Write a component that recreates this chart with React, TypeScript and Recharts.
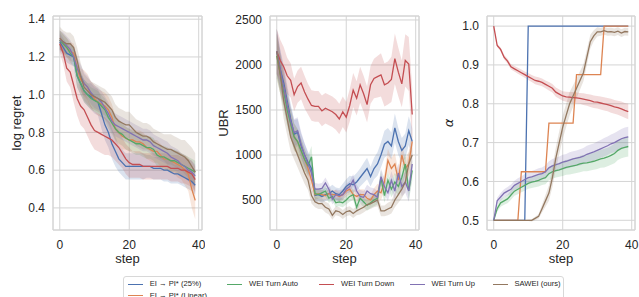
import React from 'react';
import { ComposedChart, Line, Area, XAxis, YAxis, CartesianGrid, ReferenceArea } from 'recharts';

const steps = [0, 1, 2, 3, 4, 5, 6, 7, 8, 9, 10, 11, 12, 13, 14, 15, 16, 17, 18, 19, 20, 21, 22, 23, 24, 25, 26, 27, 28, 29, 30, 31, 32, 33, 34, 35, 36, 37, 38, 39];

const seriesNames = ['EI → PI* (25%)', 'EI → PI* (Linear)', 'WEI Turn Auto', 'WEI Turn Down', 'WEI Turn Up', 'SAWEI (ours)'];
const seriesKeys = ['blue', 'orange', 'green', 'red', 'purple', 'brown'];
const seriesColors = ['#4c72b0', '#dd8452', '#55a868', '#c44e52', '#8172b3', '#937860'];

// log regret
const regretBlue = [1.28, 1.25, 1.22, 1.21, 1.2, 1.1, 1.06, 1.02, 1.0, 0.99, 0.97, 0.96, 0.9, 0.84, 0.8, 0.74, 0.7, 0.66, 0.64, 0.62, 0.62, 0.62, 0.62, 0.62, 0.62, 0.62, 0.62, 0.61, 0.61, 0.61, 0.6, 0.6, 0.59, 0.58, 0.58, 0.57, 0.56, 0.55, 0.54, 0.52];
const regretOrange = [1.29, 1.27, 1.25, 1.23, 1.22, 1.14, 1.08, 1.06, 1.04, 1.0, 0.98, 0.96, 0.95, 0.94, 0.92, 0.88, 0.82, 0.8, 0.78, 0.77, 0.76, 0.76, 0.75, 0.75, 0.74, 0.72, 0.71, 0.7, 0.7, 0.68, 0.66, 0.66, 0.65, 0.64, 0.63, 0.62, 0.6, 0.58, 0.5, 0.44];
const regretGreen = [1.29, 1.27, 1.25, 1.22, 1.2, 1.1, 1.06, 1.02, 1.0, 0.98, 0.97, 0.96, 0.94, 0.92, 0.88, 0.85, 0.82, 0.8, 0.79, 0.77, 0.76, 0.75, 0.74, 0.74, 0.73, 0.72, 0.72, 0.71, 0.68, 0.67, 0.67, 0.66, 0.65, 0.65, 0.64, 0.63, 0.62, 0.61, 0.6, 0.59];
const regretRed = [1.27, 1.22, 1.14, 1.12, 1.05, 0.98, 0.94, 0.92, 0.88, 0.84, 0.81, 0.8, 0.79, 0.78, 0.77, 0.76, 0.74, 0.72, 0.69, 0.66, 0.64, 0.63, 0.63, 0.63, 0.62, 0.62, 0.62, 0.62, 0.62, 0.62, 0.62, 0.62, 0.61, 0.61, 0.61, 0.6, 0.6, 0.59, 0.58, 0.55];
const regretPurple = [1.29, 1.28, 1.26, 1.24, 1.2, 1.14, 1.1, 1.06, 1.04, 1.01, 0.99, 0.98, 0.96, 0.93, 0.9, 0.86, 0.84, 0.83, 0.82, 0.81, 0.8, 0.79, 0.78, 0.77, 0.76, 0.76, 0.75, 0.73, 0.72, 0.71, 0.7, 0.69, 0.67, 0.66, 0.65, 0.63, 0.62, 0.6, 0.59, 0.57];
const regretBrown = [1.3, 1.28, 1.27, 1.27, 1.25, 1.18, 1.1, 1.04, 1.02, 1.0, 0.99, 0.98, 0.97, 0.96, 0.94, 0.92, 0.88, 0.86, 0.85, 0.84, 0.84, 0.82, 0.8, 0.79, 0.78, 0.78, 0.77, 0.75, 0.74, 0.73, 0.72, 0.71, 0.71, 0.7, 0.69, 0.68, 0.67, 0.65, 0.62, 0.59];

const regretBlueSd = [0.05, 0.05, 0.05, 0.05, 0.05, 0.06, 0.06, 0.06, 0.06, 0.07, 0.07, 0.07, 0.08, 0.08, 0.08, 0.08, 0.08, 0.07, 0.07, 0.07, 0.07, 0.07, 0.07, 0.07, 0.07, 0.06, 0.06, 0.06, 0.06, 0.06, 0.06, 0.06, 0.06, 0.05, 0.05, 0.05, 0.05, 0.05, 0.05, 0.05];
const regretOrangeSd = [0.05, 0.05, 0.05, 0.05, 0.05, 0.06, 0.06, 0.07, 0.07, 0.07, 0.07, 0.07, 0.07, 0.07, 0.07, 0.07, 0.07, 0.07, 0.07, 0.06, 0.06, 0.06, 0.06, 0.06, 0.06, 0.06, 0.06, 0.06, 0.06, 0.06, 0.06, 0.06, 0.06, 0.06, 0.07, 0.07, 0.08, 0.09, 0.1, 0.1];
const regretGreenSd = [0.05, 0.05, 0.05, 0.05, 0.05, 0.06, 0.06, 0.06, 0.06, 0.06, 0.06, 0.06, 0.06, 0.06, 0.06, 0.06, 0.06, 0.06, 0.06, 0.06, 0.06, 0.06, 0.06, 0.06, 0.06, 0.06, 0.06, 0.06, 0.06, 0.06, 0.06, 0.06, 0.06, 0.06, 0.06, 0.06, 0.06, 0.06, 0.06, 0.06];
const regretRedSd = [0.05, 0.06, 0.07, 0.08, 0.09, 0.09, 0.1, 0.1, 0.1, 0.1, 0.1, 0.1, 0.1, 0.1, 0.09, 0.09, 0.09, 0.09, 0.08, 0.08, 0.08, 0.07, 0.07, 0.07, 0.07, 0.07, 0.07, 0.07, 0.07, 0.07, 0.07, 0.07, 0.07, 0.07, 0.07, 0.07, 0.07, 0.07, 0.07, 0.07];
const regretPurpleSd = [0.05, 0.05, 0.05, 0.05, 0.05, 0.06, 0.06, 0.06, 0.06, 0.06, 0.06, 0.06, 0.06, 0.06, 0.06, 0.06, 0.06, 0.06, 0.06, 0.06, 0.06, 0.06, 0.06, 0.06, 0.06, 0.06, 0.06, 0.06, 0.06, 0.06, 0.06, 0.06, 0.06, 0.06, 0.06, 0.06, 0.06, 0.06, 0.06, 0.06];
const regretBrownSd = [0.06, 0.06, 0.06, 0.06, 0.06, 0.07, 0.07, 0.07, 0.07, 0.07, 0.07, 0.07, 0.07, 0.07, 0.07, 0.07, 0.07, 0.07, 0.07, 0.07, 0.07, 0.07, 0.07, 0.07, 0.07, 0.07, 0.07, 0.07, 0.07, 0.07, 0.07, 0.08, 0.08, 0.08, 0.08, 0.08, 0.09, 0.09, 0.1, 0.1];

// UBR
const ubrBlue = [2150, 1950, 1800, 1600, 1400, 1230, 1250, 1100, 1000, 920, 850, 550, 560, 540, 560, 570, 600, 570, 560, 600, 650, 680, 670, 700, 750, 800, 850, 760, 850, 900, 1000, 1120, 1150, 1100, 1300, 1150, 1050, 1100, 1270, 1150];
const ubrOrange = [2100, 1900, 1750, 1550, 1350, 1200, 1150, 1050, 950, 850, 720, 560, 570, 560, 550, 570, 560, 560, 540, 560, 600, 620, 560, 540, 560, 560, 520, 500, 560, 600, 580, 700, 940, 850, 900, 720, 1000, 850, 900, 1150];
const ubrGreen = [2100, 1900, 1700, 1500, 1350, 1200, 1150, 1050, 950, 880, 980, 570, 560, 580, 600, 520, 540, 470, 480, 470, 500, 540, 560, 420, 520, 480, 440, 470, 500, 520, 740, 550, 720, 620, 700, 650, 750, 900, 600, 830];
const ubrRed = [2150, 2050, 1980, 1880, 1830, 1670, 1760, 1800, 1700, 1620, 1550, 1540, 1540, 1490, 1520, 1500, 1480, 1450, 1400, 1480, 1420, 1550, 1720, 1630, 1780, 1680, 1560, 1780, 1850, 1870, 1890, 1780, 1800, 1840, 2070, 1920, 1790, 2050, 2010, 1450];
const ubrPurple = [2150, 1950, 1750, 1550, 1380, 1250, 1270, 1120, 1000, 900, 800, 620, 620, 630, 690, 620, 510, 560, 550, 560, 620, 650, 720, 600, 540, 530, 600, 570, 560, 530, 760, 650, 580, 720, 600, 800, 650, 700, 600, 900];
const ubrBrown = [2150, 1900, 1600, 1400, 1200, 1100, 1000, 900, 800, 720, 550, 480, 460, 460, 420, 400, 330, 380, 370, 340, 370, 380, 350, 380, 400, 420, 450, 460, 480, 500, 380, 380, 400, 420, 500, 560, 620, 700, 900, 1000];

const ubrBlueSd = [250, 220, 200, 180, 170, 160, 150, 140, 130, 120, 110, 80, 70, 70, 70, 70, 70, 70, 70, 80, 80, 90, 90, 100, 100, 110, 120, 110, 120, 130, 140, 150, 150, 150, 160, 150, 140, 140, 160, 150];
const ubrOrangeSd = [250, 220, 200, 180, 160, 150, 140, 130, 120, 110, 100, 60, 50, 50, 50, 50, 50, 50, 50, 60, 60, 60, 60, 60, 60, 60, 60, 60, 70, 80, 80, 100, 130, 120, 120, 110, 130, 120, 130, 150];
const ubrGreenSd = [250, 220, 200, 180, 160, 150, 140, 130, 120, 110, 120, 60, 50, 50, 60, 50, 50, 50, 50, 50, 50, 60, 60, 60, 60, 60, 60, 60, 70, 70, 90, 80, 90, 90, 100, 100, 110, 120, 110, 120];
const ubrRedSd = [250, 230, 220, 200, 190, 180, 180, 180, 180, 170, 170, 170, 170, 170, 170, 170, 170, 170, 170, 170, 170, 180, 190, 190, 200, 200, 200, 210, 220, 230, 240, 240, 240, 250, 280, 270, 260, 290, 300, 300];
const ubrPurpleSd = [250, 220, 200, 180, 160, 150, 150, 140, 130, 120, 110, 70, 60, 60, 60, 60, 60, 60, 60, 60, 60, 60, 70, 70, 70, 70, 70, 70, 70, 70, 90, 90, 90, 100, 100, 110, 110, 120, 120, 130];
const ubrBrownSd = [250, 220, 200, 180, 160, 150, 140, 130, 120, 110, 90, 60, 60, 60, 60, 60, 50, 50, 50, 50, 50, 50, 50, 50, 60, 60, 60, 60, 60, 70, 60, 60, 70, 70, 80, 90, 100, 110, 130, 140];

// alpha
const alphaBlue = [0.5, 0.5, 0.5, 0.5, 0.5, 0.5, 0.5, 0.5, 0.5, 0.5, 1.0, 1.0, 1.0, 1.0, 1.0, 1.0, 1.0, 1.0, 1.0, 1.0, 1.0, 1.0, 1.0, 1.0, 1.0, 1.0, 1.0, 1.0, 1.0, 1.0, 1.0, 1.0, 1.0, 1.0, 1.0, 1.0, 1.0, 1.0, 1.0, 1.0];
const alphaOrange = [0.5, 0.5, 0.5, 0.5, 0.5, 0.5, 0.5, 0.5, 0.625, 0.625, 0.625, 0.625, 0.625, 0.625, 0.625, 0.625, 0.75, 0.75, 0.75, 0.75, 0.75, 0.75, 0.75, 0.75, 0.875, 0.875, 0.875, 0.875, 0.875, 0.875, 0.875, 0.875, 1.0, 1.0, 1.0, 1.0, 1.0, 1.0, 1.0, 1.0];
const alphaGreen = [0.5, 0.53, 0.545, 0.55, 0.555, 0.565, 0.575, 0.58, 0.585, 0.59, 0.595, 0.598, 0.6, 0.603, 0.607, 0.61, 0.62, 0.625, 0.628, 0.63, 0.633, 0.636, 0.638, 0.64, 0.642, 0.645, 0.647, 0.648, 0.65, 0.652, 0.655, 0.658, 0.66, 0.663, 0.667, 0.672, 0.68, 0.685, 0.688, 0.69];
const alphaRed = [1.0, 0.95, 0.94, 0.92, 0.91, 0.895, 0.89, 0.885, 0.88, 0.875, 0.87, 0.865, 0.86, 0.858, 0.855, 0.85, 0.845, 0.84, 0.83, 0.825, 0.82, 0.818, 0.817, 0.816, 0.815, 0.814, 0.812, 0.81, 0.808, 0.805, 0.804, 0.802, 0.8, 0.798, 0.795, 0.792, 0.79, 0.787, 0.783, 0.78];
const alphaPurple = [0.5, 0.55, 0.56, 0.57, 0.575, 0.58, 0.59, 0.595, 0.6, 0.605, 0.61, 0.612, 0.615, 0.618, 0.62, 0.625, 0.635, 0.64, 0.643, 0.646, 0.65, 0.652, 0.655, 0.658, 0.66, 0.662, 0.665, 0.67, 0.673, 0.676, 0.68, 0.684, 0.688, 0.692, 0.697, 0.7, 0.705, 0.71, 0.713, 0.715];
const alphaBrown = [0.5, 0.5, 0.5, 0.5, 0.5, 0.5, 0.5, 0.5, 0.5, 0.5, 0.5, 0.5, 0.505, 0.51, 0.53, 0.55, 0.57, 0.61, 0.66, 0.7, 0.74, 0.77, 0.8, 0.82, 0.84, 0.86, 0.88, 0.92, 0.96, 0.975, 0.985, 0.985, 0.988, 0.985, 0.986, 0.984, 0.987, 0.982, 0.986, 0.985];

const alphaBlueSd = [0, 0, 0, 0, 0, 0, 0, 0, 0, 0, 0, 0, 0, 0, 0, 0, 0, 0, 0, 0, 0, 0, 0, 0, 0, 0, 0, 0, 0, 0, 0, 0, 0, 0, 0, 0, 0, 0, 0, 0];
const alphaOrangeSd = [0, 0, 0, 0, 0, 0, 0, 0, 0, 0, 0, 0, 0, 0, 0, 0, 0, 0, 0, 0, 0, 0, 0, 0, 0, 0, 0, 0, 0, 0, 0, 0, 0, 0, 0, 0, 0, 0, 0, 0];
const alphaGreenSd = [0, 0.008, 0.01, 0.01, 0.011, 0.012, 0.012, 0.013, 0.013, 0.014, 0.014, 0.015, 0.015, 0.016, 0.016, 0.017, 0.017, 0.018, 0.018, 0.018, 0.019, 0.019, 0.02, 0.02, 0.02, 0.021, 0.021, 0.022, 0.022, 0.022, 0.023, 0.023, 0.024, 0.024, 0.024, 0.025, 0.025, 0.025, 0.026, 0.026];
const alphaRedSd = [0, 0.004, 0.005, 0.006, 0.006, 0.007, 0.007, 0.008, 0.008, 0.008, 0.009, 0.009, 0.01, 0.01, 0.01, 0.01, 0.011, 0.011, 0.012, 0.012, 0.012, 0.013, 0.013, 0.014, 0.014, 0.014, 0.015, 0.015, 0.016, 0.016, 0.016, 0.017, 0.017, 0.017, 0.018, 0.018, 0.018, 0.019, 0.019, 0.02];
const alphaPurpleSd = [0, 0.008, 0.01, 0.01, 0.011, 0.012, 0.012, 0.013, 0.013, 0.014, 0.014, 0.015, 0.015, 0.016, 0.016, 0.017, 0.017, 0.018, 0.018, 0.018, 0.019, 0.019, 0.02, 0.02, 0.02, 0.021, 0.021, 0.022, 0.022, 0.022, 0.023, 0.023, 0.024, 0.024, 0.024, 0.025, 0.025, 0.025, 0.026, 0.026];
const alphaBrownSd = [0, 0, 0, 0, 0, 0, 0, 0, 0, 0, 0.002, 0.003, 0.004, 0.006, 0.01, 0.015, 0.02, 0.025, 0.028, 0.03, 0.03, 0.03, 0.03, 0.028, 0.026, 0.024, 0.022, 0.02, 0.018, 0.014, 0.012, 0.01, 0.01, 0.01, 0.01, 0.01, 0.01, 0.01, 0.01, 0.01];

function buildRows(means: number[][], sds: number[][]) {
  return steps.map((s, i) => {
    const row: any = { step: s };
    seriesKeys.forEach((k, j) => {
      row[k] = means[j][i];
      row[k + 'Band'] = [means[j][i] - sds[j][i], means[j][i] + sds[j][i]];
    });
    return row;
  });
}

const regretRows = buildRows(
  [regretBlue, regretOrange, regretGreen, regretRed, regretPurple, regretBrown],
  [regretBlueSd, regretOrangeSd, regretGreenSd, regretRedSd, regretPurpleSd, regretBrownSd]
);
const ubrRows = buildRows(
  [ubrBlue, ubrOrange, ubrGreen, ubrRed, ubrPurple, ubrBrown],
  [ubrBlueSd, ubrOrangeSd, ubrGreenSd, ubrRedSd, ubrPurpleSd, ubrBrownSd]
);
const alphaRows = buildRows(
  [alphaBlue, alphaOrange, alphaGreen, alphaRed, alphaPurple, alphaBrown],
  [alphaBlueSd, alphaOrangeSd, alphaGreenSd, alphaRedSd, alphaPurpleSd, alphaBrownSd]
);

const FONT = '"Liberation Sans", Arial, sans-serif';
const TEXT = '#262626';
const GRID = '#d4d4d4';
const X_DOMAIN: [number, number] = [-1.95, 40.95];

interface PanelProps {
  data: any[];
  left: number;
  width: number;
  axisWidth: number;
  right: number;
  yDomain: [number, number];
  yTicks: number[];
  fmt: (v: number) => string;
  label: string;
  labelX: number;
  italic?: boolean;
}

const Panel = ({ data, left, width, axisWidth, right, yDomain, yTicks, fmt, label, labelX, italic }: PanelProps) => {
  const plotMid = axisWidth + (width - axisWidth - right) / 2;
  return (
    <div style={{ position: 'absolute', left, top: 0 }}>
      <ComposedChart width={width} height={270} data={data} margin={{ top: 16, right, bottom: 0, left: 0 }}>
        <CartesianGrid stroke={GRID} strokeWidth={1} />
        <ReferenceArea x1={X_DOMAIN[0]} x2={X_DOMAIN[1]} y1={yDomain[0]} y2={yDomain[1]} fill="none" stroke={GRID} strokeWidth={1} ifOverflow="visible" />
        <XAxis
          dataKey="step"
          type="number"
          domain={X_DOMAIN}
          allowDataOverflow
          ticks={[0, 20, 40]}
          axisLine={false}
          tickLine={false}
          tickSize={6}
          tickMargin={4}
          height={40}
          tick={{ fontSize: 12, fill: TEXT, fontFamily: FONT }}
          label={{
            content: () => (
              <text x={plotMid} y={263} textAnchor="middle" fontSize={13} fill={TEXT} fontFamily={FONT}>step</text>
            ),
          }}
        />
        <YAxis
          type="number"
          domain={yDomain}
          allowDataOverflow
          ticks={yTicks}
          tickFormatter={fmt}
          axisLine={false}
          tickLine={false}
          width={axisWidth}
          tick={{ fontSize: 12, fill: TEXT, fontFamily: FONT }}
          label={{
            content: () => (
              <text
                x={labelX}
                y={123}
                transform={`rotate(-90 ${labelX} 123)`}
                textAnchor="middle"
                fontSize={13}
                fill={TEXT}
                fontFamily={italic ? '"DejaVu Sans", sans-serif' : FONT}
                fontStyle={italic ? 'italic' : 'normal'}
              >
                {label}
              </text>
            ),
          }}
        />
        {seriesKeys.map((k, j) => (
          <Area
            key={k + 'b'}
            dataKey={k + 'Band'}
            stroke="none"
            fill={seriesColors[j]}
            fillOpacity={0.2}
            isAnimationActive={false}
            activeDot={false}
          />
        ))}
        {seriesKeys.map((k, j) => (
          <Line
            key={k}
            dataKey={k}
            stroke={seriesColors[j]}
            strokeWidth={1.3}
            dot={false}
            isAnimationActive={false}
          />
        ))}
      </ComposedChart>
    </div>
  );
};

const legendCols = [3.7, 103, 195, 285.5, 368.5];

const Legend = () => (
  <div
    style={{
      position: 'absolute',
      left: 123,
      top: 276,
      width: 441,
      height: 30,
      border: '1px solid #d8d8d8',
      borderRadius: 3,
      background: '#fff',
      fontFamily: FONT,
      fontSize: 7.6,
      color: TEXT,
      boxSizing: 'border-box',
    }}
  >
    {seriesNames.map((name, i) => {
      const col = i === 1 ? 0 : i === 0 ? 0 : i - 1;
      const row = i === 1 ? 1 : 0;
      const x = legendCols[col];
      const y = row === 0 ? 7 : 18.5;
      return (
        <div key={name} style={{ position: 'absolute', left: x, top: y - 5, height: 10, whiteSpace: 'nowrap' }}>
          <div style={{ position: 'absolute', left: 0, top: 4.5, width: 15, height: 1.3, background: seriesColors[i] }} />
          <span style={{ position: 'absolute', left: 22, top: 0, lineHeight: '10px' }}>{name}</span>
        </div>
      );
    })}
  </div>
);

export default function App() {
  return (
    <div style={{ position: 'absolute', left: 0, top: 0, width: 639, height: 297, background: '#fff', overflow: 'hidden' }}>
      <Panel
        data={regretRows}
        left={0}
        width={205}
        axisWidth={53}
        right={3}
        yDomain={[0.283, 1.417]}
        yTicks={[0.4, 0.6, 0.8, 1.0, 1.2, 1.4]}
        fmt={(v) => v.toFixed(1)}
        label="log regret"
        labelX={21}
      />
      <Panel
        data={ubrRows}
        left={210}
        width={215}
        axisWidth={60}
        right={6}
        yDomain={[167, 2544]}
        yTicks={[500, 1000, 1500, 2000, 2500]}
        fmt={(v) => String(v)}
        label="UBR"
        labelX={18}
      />
      <Panel
        data={alphaRows}
        left={430}
        width={209}
        axisWidth={57}
        right={4}
        yDomain={[0.475, 1.026]}
        yTicks={[0.5, 0.6, 0.7, 0.8, 0.9, 1.0]}
        fmt={(v) => v.toFixed(1)}
        label="α"
        labelX={23}
        italic
      />
      <Legend />
    </div>
  );
}
